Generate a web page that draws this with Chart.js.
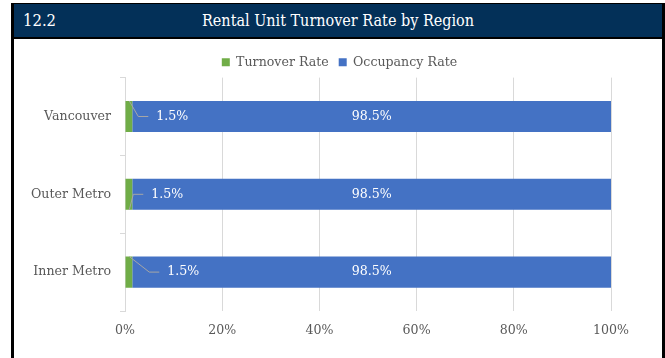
<!DOCTYPE html>
<html>
<head>
<meta charset="utf-8">
<script src="https://cdn.jsdelivr.net/npm/chart.js@4/dist/chart.umd.min.js"></script>
<style>
  html, body { margin: 0; padding: 0; background: #ffffff; }
  body { width: 665px; height: 358px; position: relative; overflow: hidden; }
  #frame {
    position: absolute; left: 11px; top: 3px; width: 648px; height: 360px;
    border-left: 3px solid #000; border-right: 3px solid #000; border-top: 1px solid #000;
  }
  #header {
    position: relative; height: 33px; background: #033058;
    border-bottom: 2px solid #000; color: #ffffff;
    font-family: "DejaVu Serif Condensed", "DejaVu Serif", serif; font-stretch: condensed;
    font-size: 16px;
  }
  #num { position: absolute; left: 9px; top: 0; line-height: 33px; font-size: 16.5px; }
  #title { position: absolute; left: 0; right: 0; top: 0; line-height: 33px; text-align: center; }
  #wrap { position: relative; width: 648px; height: 319px; }
</style>
</head>
<body>
<div id="frame">
  <div id="header"><span id="num">12.2</span><div id="title">Rental Unit Turnover Rate by Region</div></div>
  <div id="wrap"><canvas id="chart" width="648" height="319"></canvas></div>
</div>
<script>
// Regions (top to bottom) and the share of units turning over vs. staying occupied
const regions = ['Vancouver', 'Outer Metro', 'Inner Metro'];
const turnoverRate = [1.5, 1.5, 1.5];
const occupancyRate = [98.5, 98.5, 98.5];
const xTicks = [0, 20, 40, 60, 80, 100];

const GREEN = '#70AD47';
const BLUE = '#4472C4';
const GRID = '#D9D9D9';
const TEXT = '#595959';
const FONT = { family: '"DejaVu Serif", serif', size: 12.6 };

// Turnover labels sit to the right of the thin bar, joined to it by a leader line
const leaderShift = [40, 35, 51];
const leaderFrom = ['top', 'bottom', 'top'];

const fmt = v => v.toFixed(1) + '%';

// Nudge the legend block right/down after layout so it sits over the plot
const legendNudge = {
  id: 'legendNudge',
  afterLayout(chart) {
    const lg = chart.legend;
    if (!lg) return;
    lg.left += 27; lg.right += 27;
    lg.top += 1; lg.bottom += 1;
  }
};

const valueLabels = {
  id: 'valueLabels',
  afterDatasetsDraw(chart) {
    const ctx = chart.ctx;
    ctx.save();
    ctx.font = FONT.size + 'px ' + FONT.family;
    ctx.textBaseline = 'middle';
    ctx.fillStyle = '#ffffff';

    // occupancy: centred inside each blue bar
    chart.getDatasetMeta(1).data.forEach((bar, i) => {
      ctx.textAlign = 'center';
      ctx.fillText(fmt(occupancyRate[i]), (bar.base + bar.x) / 2, bar.y);
    });

    // turnover: label offset right with an elbow leader line
    chart.getDatasetMeta(0).data.forEach((bar, i) => {
      const text = fmt(turnoverRate[i]);
      const w = ctx.measureText(text).width;
      const cx = bar.x + leaderShift[i];
      const left = cx - w / 2;
      const half = bar.height / 2;
      const sy = leaderFrom[i] === 'top' ? bar.y - half : bar.y + half;
      ctx.strokeStyle = '#A6A6A6';
      ctx.lineWidth = 1;
      ctx.beginPath();
      ctx.moveTo(bar.x - 3, sy);
      ctx.lineTo(left - 18, bar.y);
      ctx.lineTo(left - 8, bar.y);
      ctx.stroke();
      ctx.textAlign = 'center';
      ctx.fillText(text, cx, bar.y);
    });
    ctx.restore();
  }
};

new Chart(document.getElementById('chart'), {
  type: 'bar',
  data: {
    labels: regions,
    datasets: [
      { label: 'Turnover Rate', data: turnoverRate, backgroundColor: GREEN,
        barPercentage: 0.5, categoryPercentage: 0.8 },
      { label: 'Occupancy Rate', data: occupancyRate, backgroundColor: BLUE,
        barPercentage: 0.5, categoryPercentage: 0.8 }
    ]
  },
  options: {
    indexAxis: 'y',
    responsive: false,
    animation: false,
    devicePixelRatio: 1,
    layout: { padding: { left: 0, right: 51, top: 6, bottom: 0 } },
    plugins: {
      legend: {
        position: 'top',
        labels: { color: TEXT, font: FONT, boxWidth: 8, boxHeight: 8, padding: 10 }
      },
      tooltip: { enabled: false }
    },
    scales: {
      x: {
        stacked: true,
        min: 0, max: 100,
        afterBuildTicks: s => { s.ticks = xTicks.map(v => ({ value: v })); },
        afterFit: s => { s.height = 47; },
        ticks: { color: TEXT, font: FONT, padding: 12, callback: v => v + '%' },
        grid: { color: GRID, drawTicks: false },
        border: { display: false }
      },
      y: {
        stacked: true,
        afterFit: s => { s.width = 111; },
        ticks: { color: TEXT, font: FONT, padding: 9 },
        grid: { color: GRID, drawOnChartArea: false, drawTicks: true, tickLength: 5, offset: true },
        border: { display: true, color: GRID }
      }
    }
  },
  plugins: [legendNudge, valueLabels]
});
</script>
</body>
</html>
